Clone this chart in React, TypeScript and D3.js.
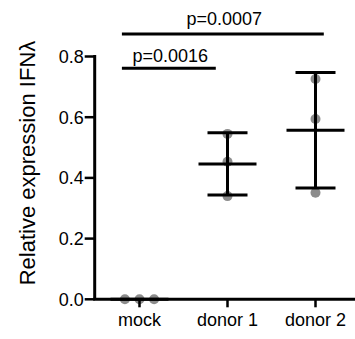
import { useEffect, useRef } from 'react';
import * as d3 from 'd3';

const categories = ['mock', 'donor 1', 'donor 2'];
const mockValues = [0, 0, 0];
const donor1Values = [0.545, 0.453, 0.34];
const donor2Values = [0.726, 0.594, 0.351];
const yTicks = [0, 0.2, 0.4, 0.6, 0.8];
const comparisons = [
    { from: 'mock', to: 'donor 1', label: 'p=0.0016', level: 0 },
    { from: 'mock', to: 'donor 2', label: 'p=0.0007', level: 1 },
];

const width = 355;
const height = 339;
const font = '"Liberation Sans", Arial, Helvetica, sans-serif';

export default function App() {
    const svgRef = useRef<SVGSVGElement>(null);

    useEffect(() => {
        if (!svgRef.current) return;
        d3.select(svgRef.current).selectAll('*').remove();

        const svg = d3.select(svgRef.current);
        const groups = [mockValues, donor1Values, donor2Values];

        const x = d3.scalePoint<string>().domain(categories).range([139.5, 315.5]);
        const y = d3.scaleLinear().domain([0, 0.8]).range([299.3, 56.5]);
        const axisX = 94.7;
        const r = 5;

        // data points (spread horizontally when they coincide)
        groups.forEach((vals, gi) => {
            const cx = x(categories[gi])!;
            const bins = d3.group(vals.map((v, i) => ({ v, i })), (d) => Math.round(y(d.v) / (2 * r)));
            bins.forEach((pts) => {
                pts.forEach((p, k) => {
                    const off = (k - (pts.length - 1) / 2) * 14.6;
                    svg
                        .append('circle')
                        .attr('cx', cx + off)
                        .attr('cy', y(p.v))
                        .attr('r', r)
                        .attr('fill', '#8c8c8c');
                });
            });
        });

        // mean and SD bars
        groups.forEach((vals, gi) => {
            const cx = x(categories[gi])!;
            const m = d3.mean(vals)!;
            const sd = d3.deviation(vals) || 0;
            const g = svg.append('g').attr('stroke', '#000').attr('stroke-width', 3);
            if (sd > 0) {
                g.append('line').attr('x1', cx).attr('x2', cx).attr('y1', y(m + sd)).attr('y2', y(m - sd));
                [m + sd, m - sd].forEach((v) => {
                    g.append('line').attr('x1', cx - 20).attr('x2', cx + 20).attr('y1', y(v)).attr('y2', y(v));
                });
            }
            g.append('line').attr('x1', cx - 29).attr('x2', cx + 29).attr('y1', y(m)).attr('y2', y(m));
        });

        // y axis
        svg
            .append('line')
            .attr('x1', axisX)
            .attr('x2', axisX)
            .attr('y1', y(0.8) - 1.5)
            .attr('y2', y(0))
            .attr('stroke', '#000')
            .attr('stroke-width', 3);
        yTicks.forEach((t) => {
            svg
                .append('line')
                .attr('x1', axisX - 10)
                .attr('x2', axisX)
                .attr('y1', y(t))
                .attr('y2', y(t))
                .attr('stroke', '#000')
                .attr('stroke-width', 2.5);
            svg
                .append('text')
                .attr('x', axisX - 11)
                .attr('y', y(t))
                .attr('dy', '0.35em')
                .attr('text-anchor', 'end')
                .attr('font-family', font)
                .attr('font-size', 18)
                .text(d3.format('.1f')(t));
        });

        // x axis
        svg
            .append('line')
            .attr('x1', axisX - 1.5)
            .attr('x2', width)
            .attr('y1', y(0))
            .attr('y2', y(0))
            .attr('stroke', '#000')
            .attr('stroke-width', 3);
        categories.forEach((c) => {
            svg
                .append('line')
                .attr('x1', x(c)!)
                .attr('x2', x(c)!)
                .attr('y1', y(0))
                .attr('y2', y(0) + 8)
                .attr('stroke', '#000')
                .attr('stroke-width', 2.5);
            svg
                .append('text')
                .attr('x', x(c)!)
                .attr('y', 326)
                .attr('text-anchor', 'middle')
                .attr('font-family', font)
                .attr('font-size', 18)
                .text(c);
        });

        // y axis title
        svg
            .append('text')
            .attr('transform', `translate(35, ${163}) rotate(-90)`)
            .attr('text-anchor', 'middle')
            .attr('font-family', font)
            .attr('font-size', 22)
            .text('Relative expression IFNλ');

        // significance bars
        comparisons.forEach((c) => {
            const x1 = x(c.from)! - 17.6;
            const x2 = c.level === 0 ? x(c.to)! - 11.7 : x(c.to)! + 8.3;
            const ly = c.level === 0 ? 68.3 : 34;
            svg
                .append('line')
                .attr('x1', x1)
                .attr('x2', x2)
                .attr('y1', ly)
                .attr('y2', ly)
                .attr('stroke', '#000')
                .attr('stroke-width', 3);
            svg
                .append('text')
                .attr('x', (x1 + x2) / 2 + 1.5)
                .attr('y', ly - (c.level === 0 ? 6 : 9.5))
                .attr('text-anchor', 'middle')
                .attr('font-family', font)
                .attr('font-size', 18)
                .text(c.label);
        });
    }, []);

    return (
        <svg
            ref={svgRef}
            width={width}
            height={height}
            style={{ position: 'absolute', left: 0, top: 0, background: '#fff' }}
        ></svg>
    );
}
